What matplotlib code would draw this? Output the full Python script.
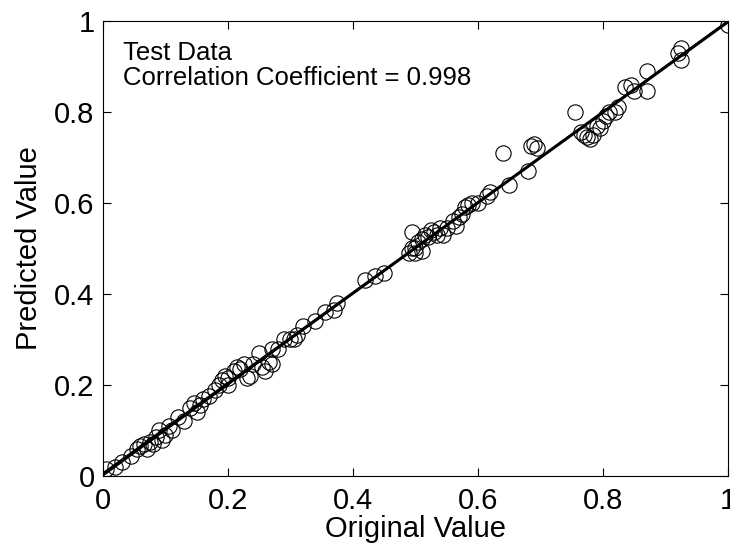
import matplotlib
matplotlib.use("Agg")
import matplotlib.pyplot as plt
import numpy as np

plt.rcParams["font.family"] = ["Liberation Sans", "DejaVu Sans"]

# original (target) values and network predictions
original = [0.005, 0.02, 0.03, 0.045, 0.055, 0.06, 0.065, 0.07, 0.075, 0.08,
            0.085, 0.09, 0.095, 0.10, 0.105, 0.11,
            0.12, 0.13, 0.14, 0.145, 0.15, 0.155, 0.16, 0.17, 0.18, 0.185,
            0.19, 0.195, 0.20, 0.20,
            0.21, 0.215, 0.22, 0.225, 0.23, 0.235, 0.24, 0.25, 0.255, 0.26,
            0.265, 0.27, 0.27, 0.28, 0.29, 0.30,
            0.305, 0.31, 0.32, 0.34, 0.355, 0.37, 0.375,
            0.42, 0.435, 0.45, 0.49, 0.495, 0.495, 0.50, 0.50, 0.505, 0.51, 0.51,
            0.515, 0.52, 0.525, 0.53, 0.535, 0.54, 0.545, 0.55, 0.56, 0.565,
            0.57, 0.575, 0.58, 0.585, 0.59, 0.60,
            0.615, 0.62, 0.64, 0.65, 0.68, 0.685, 0.69, 0.695,
            0.755, 0.765, 0.77, 0.775, 0.78, 0.785, 0.79, 0.795, 0.80, 0.805,
            0.81, 0.82, 0.825,
            0.835, 0.845, 0.85, 0.87, 0.87, 0.92, 0.925, 0.925, 1.0]
predicted = [0.015, 0.02, 0.03, 0.045, 0.06, 0.065, 0.07, 0.06, 0.075, 0.07,
             0.085, 0.10, 0.08, 0.09, 0.11, 0.10,
             0.13, 0.12, 0.15, 0.16, 0.14, 0.155, 0.17, 0.175, 0.19, 0.20,
             0.21, 0.22, 0.20, 0.215,
             0.23, 0.24, 0.235, 0.245, 0.215, 0.22, 0.245, 0.27, 0.24, 0.23,
             0.25, 0.245, 0.28, 0.28, 0.30, 0.30,
             0.30, 0.31, 0.33, 0.34, 0.36, 0.365, 0.38,
             0.43, 0.44, 0.445, 0.49, 0.50, 0.535, 0.49, 0.50, 0.515, 0.52, 0.495,
             0.53, 0.525, 0.54, 0.535, 0.53, 0.545, 0.53, 0.545, 0.56, 0.55,
             0.57, 0.575, 0.59, 0.595, 0.60, 0.60,
             0.615, 0.625, 0.71, 0.64, 0.67, 0.725, 0.73, 0.72,
             0.80, 0.755, 0.75, 0.745, 0.74, 0.75, 0.77, 0.765, 0.78, 0.79,
             0.80, 0.80, 0.81,
             0.855, 0.86, 0.845, 0.89, 0.845, 0.93, 0.94, 0.915, 0.99]
r_value = 0.998

fig = plt.figure(figsize=(7.3, 5.49), dpi=100)
ax = fig.add_axes([0.141, 0.133, 0.856, 0.829])

x = np.array(original)
y = np.array(predicted)
m, c = np.polyfit(x, y, 1)
xl = np.array([0, 1])
ax.plot(xl, m * xl + c, color="black", lw=2.2)
ax.plot(xl, xl, color="black", lw=1.0)
ax.plot(x, y, "o", mfc="none", mec="black", ms=11, mew=0.8)

ax.text(0.032, 0.955, "Test Data\nCorrelation Coefficient = %.3f" % r_value,
        fontsize=18.5, va="top", ha="left", linespacing=1.05)

ax.set_xlim(0, 1)
ax.set_ylim(0, 1)
ax.set_xticks([0, 0.2, 0.4, 0.6, 0.8, 1])
ax.set_yticks([0, 0.2, 0.4, 0.6, 0.8, 1])
ax.set_xticklabels(["0", "0.2", "0.4", "0.6", "0.8", "1"])
ax.set_yticklabels(["0", "0.2", "0.4", "0.6", "0.8", "1"])
ax.tick_params(direction="in", top=True, right=True, length=6, labelsize=21)
ax.tick_params(axis="x", pad=8)
ax.tick_params(axis="y", pad=6)
ax.set_xlabel("Original Value", fontsize=21, labelpad=0)
ax.set_ylabel("Predicted Value", fontsize=21, labelpad=8)

fig.savefig("out.png", dpi=100)
